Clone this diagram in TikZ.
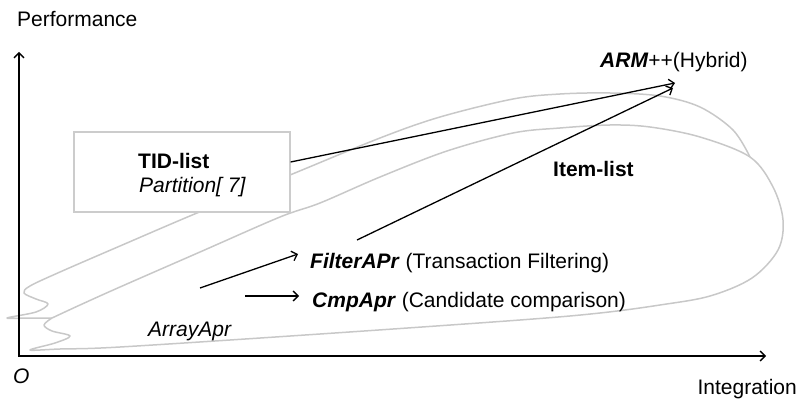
\documentclass[tikz,border=0pt]{standalone}
\usepackage{fontspec}
\setmainfont{Liberation Sans}
\usetikzlibrary{arrows.meta}
\definecolor{curvegray}{HTML}{C8C8C8}
\definecolor{boxgray}{HTML}{CCCCCC}
\begin{document}
\begin{tikzpicture}[x=1pt,y=-1pt,
  lbl/.style={font=\fontsize{21}{25}\selectfont, inner sep=0pt, anchor=base west},
  curve/.style={draw=curvegray, line width=1.5pt, line join=round},
  tip/.style={-{Straight Barb[length=5pt,width=10pt]}},
  axis/.style={line width=1.3pt},
  link/.style={line width=1.3pt, tip}]
\useasboundingbox (0,0) rectangle (799,406);

% upper loop with its small wave near the origin
\draw[curve] plot[smooth, tension=0.55] coordinates {
  (750,157) (733,130) (700,107) (660,96) (610,93) (560,94) (513,99)
  (440,117) (380,138) (290,175) (197,213) (120,246) (60,272) (30,286)
  (24,293) (36,299) (48,304) (36,312) (7,318) (30,318) (52,318)};

% lower loop
\draw[curve] plot[smooth, tension=0.55] coordinates {
  (52,318) (44,325) (52,331) (70,336) (55,343) (30,350) (60,349)
  (120,347) (320,334) (520,320) (600,313) (660,305) (710,296) (752,278)
  (778,250) (783,220) (773,187) (750,157) (700,137) (650,127) (610,125)
  (560,128) (513,133) (447,151) (380,177) (320,203) (280,217) (200,252)
  (120,287) (80,305) (52,318)};

% axes
\coordinate (ytop) at (19,52);
\coordinate (origin) at (19,356);
\coordinate (xend) at (766,356);
\draw[axis, {Straight Barb[length=5pt,width=10pt]}-{Straight Barb[length=5pt,width=10pt]}]
  (ytop) -- (origin) -- (xend);

% TID-list box
\node[draw=boxgray, fill=white, line width=1.2pt, minimum width=216pt,
      minimum height=80pt, inner sep=0pt] (tidbox) at (182,172) {};
\node[lbl, font=\fontsize{21}{25}\selectfont\bfseries] (tid) at (138,168) {TID-list};
\node[lbl, font=\fontsize{21}{25}\selectfont\itshape] (part) at (139,192) {Partition[ 7]};

% labels
\node[lbl] (perf) at (17,27) {Performance};
\node[lbl] (arm) at (600,68) {\textbf{\textit{ARM}}++(Hybrid)};
\node[lbl, font=\fontsize{21}{25}\selectfont\bfseries] (item) at (553,176) {Item-list};
\node[lbl] (filter) at (310,268) {\textbf{\textit{FilterAPr}} (Transaction Filtering)};
\node[lbl] (cmp) at (312,307) {\textbf{\textit{CmpApr}} (Candidate comparison)};
\node[lbl, font=\fontsize{21}{25}\selectfont\itshape] (array) at (148,336) {ArrayApr};
\node[lbl, font=\fontsize{21}{25}\selectfont\itshape] (olbl) at (13,383) {O};
\node[lbl, anchor=base east] (integ) at (797,394) {Integration};

% connectors
\coordinate (armtipA) at (675,83);
\coordinate (armtipB) at (673,88);
\coordinate (itemstart) at (357,240);
\coordinate (filterstart) at (200,288);
\coordinate (filtertip) at (298,254);
\coordinate (cmpstart) at (245,296);
\coordinate (cmptip) at (299,296);
\draw[link] (tidbox.east |- 0,162) -- (armtipA);
\draw[link] (itemstart) -- (armtipB);
\draw[link] (filterstart) -- (filtertip);
\draw[link] (cmpstart) -- (cmptip);
\end{tikzpicture}
\end{document}
